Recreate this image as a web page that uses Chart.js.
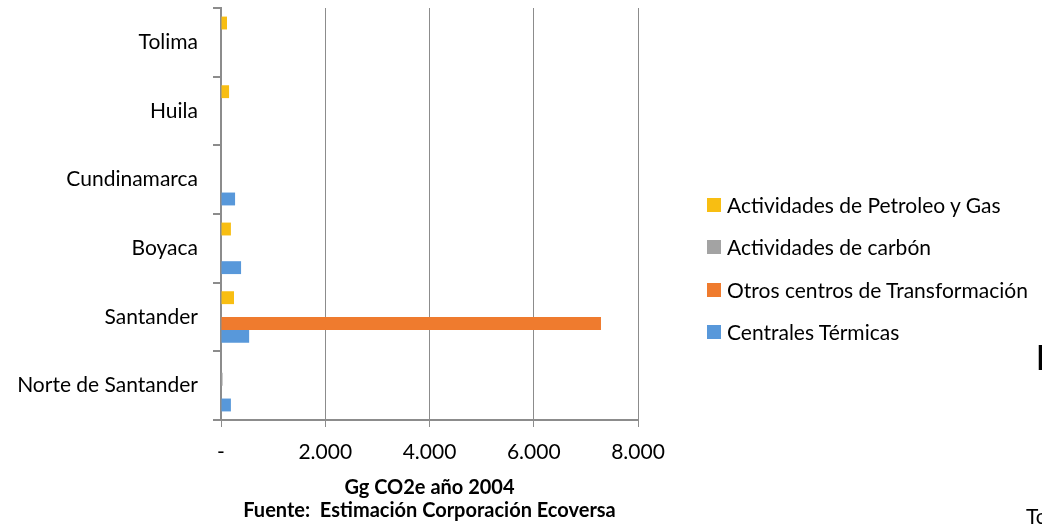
<!DOCTYPE html>
<html>
<head>
<meta charset="utf-8">
<script src="https://cdn.jsdelivr.net/npm/chart.js@4"></script>
<style>
  html,body{margin:0;padding:0;background:#fff;}
  body{width:1042px;height:526px;overflow:hidden;position:relative;font-family:Lato,"Open Sans",sans-serif;}
  #wrap{position:absolute;left:0;top:0;width:1042px;height:526px;}
  #legend{position:absolute;left:707px;top:198px;font-size:21px;color:#000;}
  #legend div{height:42.3px;display:flex;align-items:flex-start;line-height:14px;}
  #legend span.box{display:inline-block;width:14px;height:14px;margin-right:6px;}
  .stray{position:absolute;color:#000;white-space:nowrap;}
</style>
</head>
<body>
<div id="wrap"><canvas id="c" width="1042" height="526"></canvas></div>
<div id="legend"></div>
<div class="stray" style="left:1036px;top:336px;font-size:34px;font-weight:bold;">I</div>
<div class="stray" style="left:1026px;top:503px;font-size:21px;">To</div>
<script>
/* ===== Data ===== */
const regions = ["Tolima","Huila","Cundinamarca","Boyaca","Santander","Norte de Santander"];
const petroleoGas = [115,155,0,190,250,0];
const carbon = [0,0,0,0,0,30];
const otrosCentros = [0,0,0,0,7290,0];
const centralesTermicas = [0,0,270,385,540,190];
const xTicks = [0,2000,4000,6000,8000];

const seriesNames = ["Actividades de Petroleo y Gas","Actividades de carbón","Otros centros de Transformación","Centrales Térmicas"];
const colors = ["#F8BE12","#A3A3A3","#EF7B2E","#5898DA"];
const seriesData = [petroleoGas,carbon,otrosCentros,centralesTermicas];

const FONT = "Lato";

/* ===== Chart ===== */
const chart = new Chart(document.getElementById("c"),{
  type:"bar",
  data:{
    labels:regions,
    datasets:seriesNames.map((n,i)=>({
      label:n,
      data:seriesData[i],
      backgroundColor:colors[i],
      borderWidth:0,
      categoryPercentage:0.75,
      barPercentage:1.0
    }))
  },
  options:{
    indexAxis:"y",
    responsive:false,
    animation:false,
    layout:{padding:{left:0,right:404,top:8,bottom:0}},
    plugins:{legend:{display:false},tooltip:{enabled:false}},
    scales:{
      x:{
        min:0,max:8000,
        afterBuildTicks:s=>{ s.ticks = xTicks.map(v=>({value:v})); },
        afterFit:s=>{ s.height = 106; s.paddingLeft = 0; s.paddingRight = 0; },
        grid:{color:"#8c8c8c",lineWidth:1,tickLength:7,drawTicks:true},
        border:{color:"#8c8c8c",width:2},
        ticks:{
          color:"#000",font:{family:FONT,size:21},padding:13,maxRotation:0,
          callback:v=>v===0?"-":v.toLocaleString("de-DE")
        },
        title:{
          display:true,
          text:["Gg CO2e año 2004","Fuente:  Estimación Corporación Ecoversa"],
          color:"#000",font:{family:FONT,size:20,weight:"bold",lineHeight:1.15},
          padding:{top:4,bottom:4}
        }
      },
      y:{
        afterFit:s=>{ s.width = 221; s.paddingTop = 0; s.paddingBottom = 0; },
        grid:{display:true,drawOnChartArea:false,drawTicks:true,tickLength:8,offset:true,color:"#8c8c8c",lineWidth:2},
        border:{color:"#8c8c8c",width:2},
        ticks:{color:"#000",font:{family:FONT,size:21},padding:15}
      }
    }
  }
});

/* ===== Legend ===== */
const legend = document.getElementById("legend");
seriesNames.forEach((n,i)=>{
  legend.innerHTML += `<div><span class="box" style="background:${colors[i]}"></span>${n}</div>`;
});
</script>
</body>
</html>
